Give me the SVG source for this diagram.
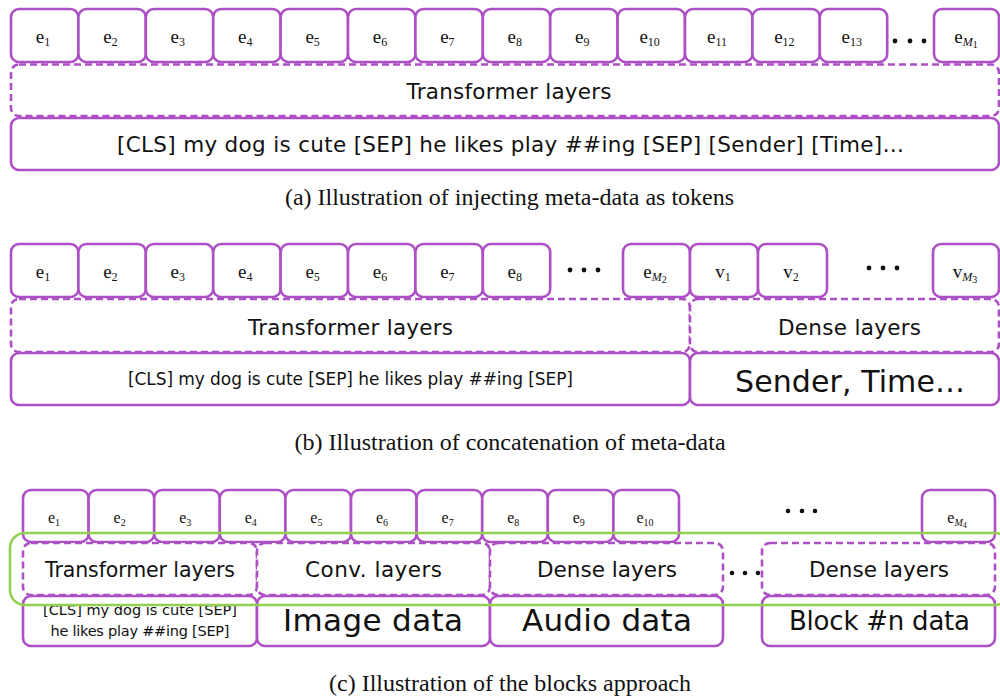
<svg xmlns="http://www.w3.org/2000/svg" width="1000" height="696" viewBox="0 0 1000 696">
<style>
.tok{fill:#fff;stroke:#AD4FC5;stroke-width:2.6}
.solid{fill:#fff;stroke:#AD4FC5;stroke-width:2.6}
.dash{fill:#fff;stroke:#AD4FC5;stroke-width:2.6;stroke-dasharray:7 4}
.lbl{font-family:"Liberation Serif","Times New Roman",serif;font-size:19px;fill:#111;text-anchor:middle}
.lblc{font-family:"Liberation Serif","Times New Roman",serif;font-size:16px;fill:#111;text-anchor:middle}
.sub{font-size:12px}
.subc{font-size:10px}
.m{font-style:italic}
.t{font-family:"DejaVu Sans","Noto Sans",sans-serif;fill:#111;text-anchor:middle}
.cap{font-family:"Liberation Serif","Times New Roman",serif;font-size:24px;fill:#111;text-anchor:middle}
.dot{fill:#111}
.green{fill:none;stroke:#92D050;stroke-width:2.6}
</style>

<!-- ===== (a) ===== -->
<g id="a-tokens">
<g id="a-e1"><rect class="tok" x="11" y="9" width="67.4" height="53" rx="8"/><text class="lbl" x="43" y="43">e<tspan class="sub" dy="3">1</tspan></text></g>
<g id="a-e2"><rect class="tok" x="78.4" y="9" width="67.4" height="53" rx="8"/><text class="lbl" x="110.4" y="43">e<tspan class="sub" dy="3">2</tspan></text></g>
<g id="a-e3"><rect class="tok" x="145.8" y="9" width="67.4" height="53" rx="8"/><text class="lbl" x="177.8" y="43">e<tspan class="sub" dy="3">3</tspan></text></g>
<g id="a-e4"><rect class="tok" x="213.2" y="9" width="67.4" height="53" rx="8"/><text class="lbl" x="245.2" y="43">e<tspan class="sub" dy="3">4</tspan></text></g>
<g id="a-e5"><rect class="tok" x="280.6" y="9" width="67.4" height="53" rx="8"/><text class="lbl" x="312.6" y="43">e<tspan class="sub" dy="3">5</tspan></text></g>
<g id="a-e6"><rect class="tok" x="348" y="9" width="67.4" height="53" rx="8"/><text class="lbl" x="380" y="43">e<tspan class="sub" dy="3">6</tspan></text></g>
<g id="a-e7"><rect class="tok" x="415.4" y="9" width="67.4" height="53" rx="8"/><text class="lbl" x="447.4" y="43">e<tspan class="sub" dy="3">7</tspan></text></g>
<g id="a-e8"><rect class="tok" x="482.8" y="9" width="67.4" height="53" rx="8"/><text class="lbl" x="514.8" y="43">e<tspan class="sub" dy="3">8</tspan></text></g>
<g id="a-e9"><rect class="tok" x="550.2" y="9" width="67.4" height="53" rx="8"/><text class="lbl" x="582.2" y="43">e<tspan class="sub" dy="3">9</tspan></text></g>
<g id="a-e10"><rect class="tok" x="617.6" y="9" width="67.4" height="53" rx="8"/><text class="lbl" x="649.6" y="43">e<tspan class="sub" dy="3">10</tspan></text></g>
<g id="a-e11"><rect class="tok" x="685" y="9" width="67.4" height="53" rx="8"/><text class="lbl" x="717" y="43">e<tspan class="sub" dy="3">11</tspan></text></g>
<g id="a-e12"><rect class="tok" x="752.4" y="9" width="67.4" height="53" rx="8"/><text class="lbl" x="784.4" y="43">e<tspan class="sub" dy="3">12</tspan></text></g>
<g id="a-e13"><rect class="tok" x="819.8" y="9" width="67.4" height="53" rx="8"/><text class="lbl" x="851.8" y="43">e<tspan class="sub" dy="3">13</tspan></text></g>
<g id="a-dots"><circle class="dot" cx="895" cy="41" r="2.4"/><circle class="dot" cx="910" cy="41" r="2.4"/><circle class="dot" cx="924" cy="41" r="2.4"/></g>
<g id="a-eM1"><rect class="tok" x="934" y="9" width="65" height="53" rx="8"/><text class="lbl" x="966" y="43">e<tspan class="sub m" dy="3">M</tspan><tspan class="subc" dy="2">1</tspan></text></g>
</g>
<g id="a-transformer"><rect class="dash" x="11" y="64.5" width="988" height="51.5" rx="8"/><text class="t" x="509" y="99" font-size="21.5" textLength="205">Transformer layers</text></g>
<g id="a-input"><rect class="solid" x="11" y="118" width="988" height="52" rx="8"/><text class="t" x="510.5" y="152" font-size="21.5" textLength="787">[CLS] my dog is cute [SEP] he likes play ##ing [SEP] [Sender] [Time]…</text></g>
<text class="cap" x="509.5" y="205">(a) Illustration of injecting meta-data as tokens</text>

<!-- ===== (b) ===== -->
<g id="b-tokens">
<g id="b-e1"><rect class="tok" x="11" y="244" width="67.4" height="53" rx="8"/><text class="lbl" x="43" y="278">e<tspan class="sub" dy="3">1</tspan></text></g>
<g id="b-e2"><rect class="tok" x="78.4" y="244" width="67.4" height="53" rx="8"/><text class="lbl" x="110.4" y="278">e<tspan class="sub" dy="3">2</tspan></text></g>
<g id="b-e3"><rect class="tok" x="145.8" y="244" width="67.4" height="53" rx="8"/><text class="lbl" x="177.8" y="278">e<tspan class="sub" dy="3">3</tspan></text></g>
<g id="b-e4"><rect class="tok" x="213.2" y="244" width="67.4" height="53" rx="8"/><text class="lbl" x="245.2" y="278">e<tspan class="sub" dy="3">4</tspan></text></g>
<g id="b-e5"><rect class="tok" x="280.6" y="244" width="67.4" height="53" rx="8"/><text class="lbl" x="312.6" y="278">e<tspan class="sub" dy="3">5</tspan></text></g>
<g id="b-e6"><rect class="tok" x="348" y="244" width="67.4" height="53" rx="8"/><text class="lbl" x="380" y="278">e<tspan class="sub" dy="3">6</tspan></text></g>
<g id="b-e7"><rect class="tok" x="415.4" y="244" width="67.4" height="53" rx="8"/><text class="lbl" x="447.4" y="278">e<tspan class="sub" dy="3">7</tspan></text></g>
<g id="b-e8"><rect class="tok" x="482.8" y="244" width="67.4" height="53" rx="8"/><text class="lbl" x="514.8" y="278">e<tspan class="sub" dy="3">8</tspan></text></g>
<g id="b-dots1"><circle class="dot" cx="570" cy="270" r="2.4"/><circle class="dot" cx="584" cy="270" r="2.4"/><circle class="dot" cx="598" cy="270" r="2.4"/></g>
<g id="b-eM2"><rect class="tok" x="623" y="244" width="67" height="53" rx="8"/><text class="lbl" x="655" y="278">e<tspan class="sub m" dy="3">M</tspan><tspan class="subc" dy="2">2</tspan></text></g>
<g id="b-v1"><rect class="tok" x="690" y="244" width="68" height="53" rx="8"/><text class="lbl" x="723" y="278">v<tspan class="sub" dy="3">1</tspan></text></g>
<g id="b-v2"><rect class="tok" x="758" y="244" width="69" height="53" rx="8"/><text class="lbl" x="791" y="278">v<tspan class="sub" dy="3">2</tspan></text></g>
<g id="b-dots2"><circle class="dot" cx="869" cy="268" r="2.4"/><circle class="dot" cx="883" cy="268" r="2.4"/><circle class="dot" cx="897" cy="268" r="2.4"/></g>
<g id="b-vM3"><rect class="tok" x="933" y="244" width="66" height="53" rx="8"/><text class="lbl" x="965" y="278">v<tspan class="sub m" dy="3">M</tspan><tspan class="subc" dy="2">3</tspan></text></g>
</g>
<g id="b-transformer"><rect class="dash" x="11" y="299" width="679" height="53" rx="8"/><text class="t" x="350.5" y="335" font-size="21.5" textLength="205">Transformer layers</text></g>
<g id="b-dense"><rect class="dash" x="690" y="299" width="309" height="53" rx="8"/><text class="t" x="849.5" y="335" font-size="21.5" textLength="143">Dense layers</text></g>
<g id="b-text"><rect class="solid" x="11" y="353" width="679" height="52" rx="8"/><text class="t" x="350.5" y="385" font-size="17" textLength="445">[CLS] my dog is cute [SEP] he likes play ##ing [SEP]</text></g>
<g id="b-meta"><rect class="solid" x="690" y="353" width="309" height="52" rx="8"/><text class="t" x="850" y="392" font-size="30" textLength="230">Sender, Time…</text></g>
<text class="cap" x="510" y="450">(b) Illustration of concatenation of meta-data</text>

<!-- ===== (c) ===== -->
<g id="c-tokens">
<g id="c-e1"><rect class="tok" x="23" y="490" width="65.6" height="52" rx="8"/><text class="lblc" x="54" y="523">e<tspan class="subc" dy="3">1</tspan></text></g>
<g id="c-e2"><rect class="tok" x="88.6" y="490" width="65.6" height="52" rx="8"/><text class="lblc" x="119.6" y="523">e<tspan class="subc" dy="3">2</tspan></text></g>
<g id="c-e3"><rect class="tok" x="154.2" y="490" width="65.6" height="52" rx="8"/><text class="lblc" x="185.2" y="523">e<tspan class="subc" dy="3">3</tspan></text></g>
<g id="c-e4"><rect class="tok" x="219.8" y="490" width="65.6" height="52" rx="8"/><text class="lblc" x="250.8" y="523">e<tspan class="subc" dy="3">4</tspan></text></g>
<g id="c-e5"><rect class="tok" x="285.4" y="490" width="65.6" height="52" rx="8"/><text class="lblc" x="316.4" y="523">e<tspan class="subc" dy="3">5</tspan></text></g>
<g id="c-e6"><rect class="tok" x="351" y="490" width="65.6" height="52" rx="8"/><text class="lblc" x="382" y="523">e<tspan class="subc" dy="3">6</tspan></text></g>
<g id="c-e7"><rect class="tok" x="416.6" y="490" width="65.6" height="52" rx="8"/><text class="lblc" x="447.6" y="523">e<tspan class="subc" dy="3">7</tspan></text></g>
<g id="c-e8"><rect class="tok" x="482.2" y="490" width="65.6" height="52" rx="8"/><text class="lblc" x="513.2" y="523">e<tspan class="subc" dy="3">8</tspan></text></g>
<g id="c-e9"><rect class="tok" x="547.8" y="490" width="65.6" height="52" rx="8"/><text class="lblc" x="578.8" y="523">e<tspan class="subc" dy="3">9</tspan></text></g>
<g id="c-e10"><rect class="tok" x="613.4" y="490" width="65.6" height="52" rx="8"/><text class="lblc" x="645" y="523">e<tspan class="subc" dy="3">10</tspan></text></g>
<g id="c-dots1"><circle class="dot" cx="788" cy="511" r="2.3"/><circle class="dot" cx="802" cy="511" r="2.3"/><circle class="dot" cx="815" cy="511" r="2.3"/></g>
<g id="c-eM4"><rect class="tok" x="922" y="490" width="73" height="52" rx="8"/><text class="lblc" x="957" y="523">e<tspan class="subc m" dy="3">M</tspan><tspan font-size="8" dy="2">4</tspan></text></g>
</g>
<g id="c-transformer"><rect class="dash" x="23" y="543" width="234" height="52" rx="8"/><text class="t" x="140" y="577" font-size="20.5" textLength="190">Transformer layers</text></g>
<g id="c-conv"><rect class="dash" x="257" y="543" width="233" height="52" rx="8"/><text class="t" x="373.5" y="577" font-size="21.5" textLength="137">Conv. layers</text></g>
<g id="c-dense1"><rect class="dash" x="490" y="543" width="233" height="52" rx="8"/><text class="t" x="607" y="577" font-size="21.5" textLength="140">Dense layers</text></g>
<g id="c-dots2"><circle class="dot" cx="732" cy="573" r="2.3"/><circle class="dot" cx="745" cy="573" r="2.3"/><circle class="dot" cx="758" cy="573" r="2.3"/></g>
<g id="c-dense2"><rect class="dash" x="762" y="543" width="233" height="52" rx="8"/><text class="t" x="879" y="577" font-size="21.5" textLength="140">Dense layers</text></g>
<g id="c-text"><rect class="solid" x="23" y="596" width="234" height="50" rx="8"/><text class="t" x="140" y="615" font-size="14.5" textLength="194">[CLS] my dog is cute [SEP]</text><text class="t" x="140" y="636" font-size="14.5" textLength="179">he likes play ##ing [SEP]</text></g>
<g id="c-image"><rect class="solid" x="257" y="596" width="233" height="50" rx="8"/><text class="t" x="373" y="631" font-size="31" textLength="180">Image data</text></g>
<g id="c-audio"><rect class="solid" x="490" y="596" width="233" height="50" rx="8"/><text class="t" x="607" y="631" font-size="31" textLength="170">Audio data</text></g>
<g id="c-blockn"><rect class="solid" x="762" y="596" width="233" height="50" rx="8"/><text class="t" x="879.5" y="630" font-size="26" textLength="181">Block #n data</text></g>
<g id="c-block-frame"><rect class="green" x="10" y="533" width="1000" height="72" rx="15"/></g>
<text class="cap" x="510" y="691">(c) Illustration of the blocks approach</text>

<g id="connectors"/>
</svg>
